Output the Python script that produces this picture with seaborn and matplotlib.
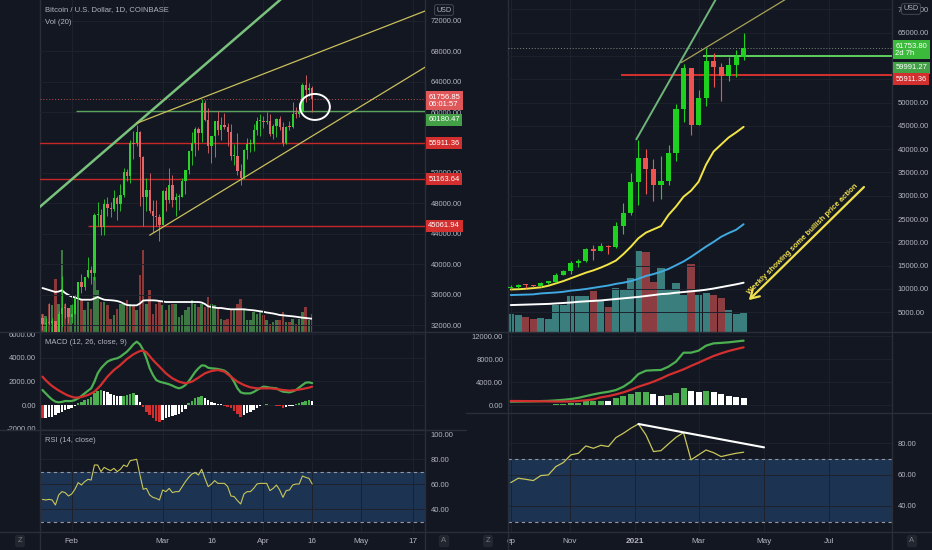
import numpy as np
import pandas as pd
import matplotlib
matplotlib.use("Agg")
import matplotlib.pyplot as plt
import matplotlib.dates as mdates
from matplotlib.patches import Ellipse
from matplotlib.lines import Line2D
import seaborn as sns

# ---------------- data: left chart, daily BTC/USD ----------------
day_dates = pd.date_range("2021-01-23", "2021-04-16", freq="D")

d_open = [32950, 32080, 32260, 32250, 32500, 30400, 33400, 34300, 34300,
          33100, 33500, 35500, 37650, 36950, 38300, 39250, 38850, 46450, 46500, 44850, 47950, 47400, 47200,
          48700, 47950, 49150, 52150, 51600, 55900, 55900, 57400, 54100, 48900, 49700, 47050, 46300, 46150,
          45200, 49600, 48400, 50400, 48400, 48800, 48900, 51000, 52400, 54900, 55900, 57800, 57300, 61200,
          59000, 55600, 56900, 58900, 57600, 58300, 58100, 57400, 54200, 54300, 52300, 51300, 55000, 55800,
          55800, 57600, 58800,
          58800, 58700, 58900, 57100, 58200, 59100, 58000, 56000, 58100, 58100, 59800, 59800, 60000, 63600,
          62900, 63200]
d_close = [32080, 32260, 32250, 32500, 30400, 33400, 34300, 34250, 33100,
           33500, 35500, 37650, 36950, 38300, 39250, 38850, 46450, 46500, 44850, 47950, 47400, 47200, 48700,
           47950, 49150, 52150, 51600, 55900, 55850, 57400, 54100, 48900, 49700, 47050, 46300, 46150, 45200,
           49600, 48400, 50400, 48400, 48800, 48900, 51000, 52400, 54900, 55900, 57800, 57300, 61200, 59000,
           55600, 56900, 58900, 57600, 58300, 58100, 57400, 54200, 54300, 52300, 51300, 55000, 55800, 55850,
           57600, 58800, 58800,
           58700, 58900, 57100, 58200, 59100, 58000, 56000, 58100, 58050, 59800, 59780, 60000, 63600, 62900,
           63200, 61750]
d_high = [33400, 32950, 34850, 32920, 32560, 33800, 38500, 34900, 34300,
          34700, 35900, 37700, 38700, 38300, 40900, 39700, 46800, 48200, 47300, 48600, 48900, 48200, 49700,
          49000, 50600, 52600, 52500, 56300, 57500, 58350, 57500, 54200, 51400, 52000, 48400, 48400, 46600,
          49800, 50200, 52600, 51800, 49400, 49200, 51400, 52400, 54900, 57400, 58100, 58000, 61800, 61600,
          60600, 56900, 58900, 60100, 59400, 59900, 58600, 58400, 55800, 57200, 53200, 55100, 56600, 56500,
          58400, 59400, 59800,
          59500, 60000, 59800, 58500, 59300, 59500, 58700, 58200, 58900, 61300, 60700, 61200, 63800, 64900,
          63800, 63500]
d_low = [31400, 30900, 31950, 30850, 29250, 29950, 31900, 32900, 32200,
         32300, 33400, 35400, 36200, 36600, 38200, 37400, 37900, 45000, 43800, 43900, 46300, 46200, 47000,
         45800, 47050, 48900, 50900, 50700, 53900, 55500, 47600, 45000, 47050, 46700, 44200, 45000, 43000,
         45100, 47000, 48100, 47500, 46300, 47100, 48900, 49300, 51900, 53100, 54300, 55000, 56100, 58900,
         54600, 53300, 54100, 57000, 56300, 57800, 55500, 53700, 53000, 51700, 50400, 51200, 53900, 54700,
         54900, 57000, 56900,
         57900, 58500, 56900, 56500, 56800, 57700, 55500, 55800, 57700, 57900, 59200, 59400, 60000, 61300,
         62100, 60000]
d_volume = [18, 16, 28, 27, 53, 28, 82, 28, 23,
            27, 28, 32, 32, 22, 30, 23, 55, 42, 30, 30, 27, 13, 17, 23, 28, 28, 32, 28, 27, 22, 57, 82, 28,
            42, 18, 28, 30,
            27, 22, 27, 28, 28, 15, 17, 22, 25, 32, 28, 25, 28, 25, 35, 28, 27, 23, 13, 12, 13, 22, 23, 28,
            33, 22, 12, 12, 20, 18, 20,
            17, 12, 8, 10, 12, 12, 20, 10, 10, 13, 8, 13, 20, 25, 12, 18]
d_vol_ma = [44, 43, 42, 41, 40, 40.5, 41.7, 39, 37,
            35.5, 34.5, 33.5, 32.3, 32.3, 32.3, 32.3, 33.5, 35, 33.5, 32.3, 32, 31.8, 31.5, 31, 30, 28.5, 27,
            26.7, 26.7, 26.7, 28.5, 31.5, 31.7, 31.7, 31.7, 31.5, 31,
            30.5, 30, 30, 30, 30, 30, 30, 30, 30, 30, 30, 30, 29.5, 28, 25.7, 25, 24.5, 24, 24, 23.5, 23,
            22.7, 22.7, 22.7, 22.7, 22.7, 22.3, 22, 21.7, 21.2, 20.7,
            20.2, 19.5, 19, 18.5, 17.8, 17, 16.7, 16.3, 16, 15.7, 15.3, 14.8, 14.3, 14, 13.6, 13.3]
d_macd = [1270, 980, 705, 450, 282, 225, 260, 338, 330,
          338, 420, 564, 760, 987, 1200, 1410, 1973, 2678, 3101, 3400, 3665, 3800, 3890, 3950, 4088, 4300,
          4511, 4800, 5131, 5357, 5131, 4652, 3947, 3101, 2537, 2114, 1973,
          1900, 1832, 1750, 1635, 1500, 1410, 1500, 1691, 2000, 2396, 2800, 3101, 3350, 3327, 3150, 3101,
          3080, 3045, 2980, 2903, 2700, 2396, 1950, 1410, 1071, 987, 980, 987, 1100, 1268, 1420,
          1550, 1520, 1466, 1440, 1410, 1250, 1128, 1100, 1071, 1150, 1268, 1480, 1691, 1889, 1917, 1850]
d_signal = [2396, 2100, 1832, 1600, 1410, 1230, 1071, 920, 789,
            700, 620, 640, 677, 760, 846, 980, 1128, 1400, 1691, 2050, 2396, 2680, 2960, 3170, 3383, 3640,
            3890, 4090, 4285, 4430, 4567, 4595, 4455, 4130, 3806, 3520, 3242,
            2960, 2678, 2460, 2255, 2110, 1973, 1900, 1832, 1900, 1973, 2140, 2311, 2500, 2678, 2780, 2875,
            2920, 2960, 2890, 2819, 2600, 2396, 2180, 1973, 1830, 1691, 1590, 1494, 1450, 1410, 1410,
            1410, 1410, 1410, 1380, 1353, 1310, 1268, 1240, 1212, 1240, 1268, 1310, 1353, 1410, 1466, 1550]
d_hist = [-1128, -1071, -987, -987, -846, -705, -564, -423, -338,
          -225, -56, 141, 282, 423, 507, 705, 987, 1184, 1268, 1184, 1071, 958, 846, 761, 733, 789, 846,
          930, 987, 846, 282, -141, -564, -846, -1128, -1353, -1466,
          -1268, -1128, -1015, -930, -846, -761, -560, -300, 141, 338, 564, 705, 789, 564, 395, 282, 197,
          113, 56, -56, -169, -282, -507, -789, -987, -846, -705, -564, -423, -225, -113,
          28, 56, 0, -28, -56, -113, -225, -169, -113, -56, 56, 169, 282, 366, 395, 310]
d_rsi = [47.9, 47.4, 47.9, 47.4, 43.4, 51.4, 54.1, 53.3, 50.6,
         52.2, 56.0, 61.3, 59.4, 62.1, 63.9, 63.4, 75.4, 75.4, 70.1, 73.5, 72.0, 70.9, 72.7, 70.1, 72.0,
         75.4, 74.1, 78.9, 79.4, 80.0, 67.4, 56.0, 56.7, 51.4, 49.5, 48.7, 47.4,
         55.4, 54.1, 56.7, 53.3, 54.1, 54.1, 58.1, 62.1, 65.5, 68.2, 69.3, 67.4, 72.0, 64.7, 58.1, 60.2,
         62.9, 60.7, 60.7, 60.7, 58.1, 50.6, 50.1, 46.9, 44.2, 52.2, 54.1, 54.1, 56.7, 60.2, 60.7,
         60.7, 60.7, 54.9, 56.7, 59.4, 55.4, 49.5, 54.9, 55.4, 59.4, 60.2, 60.2, 66.6, 65.5, 64.7, 60.2]

# drawings on the daily chart
d_levels_red = [55911.36, 51163.64]
d_level_red_short = 45061.94
d_level_green = 60180.47
d_last = 61756.85
d_green_trend = [("2021-01-22", 47470), ("2021-04-08", 75465)]
d_upper_trend = [("2021-02-21", 58540), ("2021-05-21", 73360)]
d_lower_trend = [("2021-02-25", 43820), ("2021-05-21", 65990)]

# ---------------- data: right chart, weekly ----------------
week_dates = pd.date_range("2020-09-07", periods=32, freq="7D")
w_open = [10280, 10330, 10940, 10770, 10670, 11370, 11500, 13030, 13780, 15480, 16060, 18500, 18180, 19280,
          18950, 23480, 26250, 32990, 38200, 35800, 32250, 33100, 39200, 48600, 57400, 45200, 51000, 59000,
          57600, 55800, 58000, 59800]
w_close = [10330, 10940, 10770, 10670, 11370, 11500, 13030, 13780, 15480, 16060, 18500, 18180, 19150, 18950,
           23480, 26250, 32990, 38200, 35800, 32250, 33100, 39200, 48600, 57400, 45200, 51000, 59000, 57600,
           55800, 58000, 59800, 61750]
w_high = [10800, 11100, 10990, 10950, 11450, 11730, 13350, 14100, 15960, 16480, 18800, 19480, 19900, 19420,
          24300, 28400, 34800, 42000, 40100, 37800, 38500, 40900, 49700, 58300, 57500, 52600, 61800, 60600,
          58400, 59800, 61300, 64900]
w_low = [9900, 10200, 10150, 10500, 10530, 11170, 11400, 12900, 13200, 14800, 15800, 16300, 18100, 17600,
         18900, 21900, 25900, 28000, 30400, 28800, 29300, 32300, 37400, 45800, 43000, 45100, 49300, 53300,
         50400, 54700, 55500, 59100]
w_volume = [110, 100, 90, 80, 84, 80, 160, 160, 216, 216, 216, 244, 184, 150, 264, 250, 324, 484, 480, 300,
            384, 256, 296, 220, 408, 220, 236, 220, 204, 130, 110, 120]
w_ma_yellow = [9900, 9950, 10050, 10200, 10350, 10700, 11200, 11700, 12300, 12900, 13500, 14000, 14600,
               15300, 16100, 17500, 19100, 20900, 22100, 22800, 23500, 25900, 27700, 29800, 31100, 33000,
               36700, 39500, 41000, 42500, 43600, 44800]
w_ma_blue = [8700, 8750, 8800, 8850, 9050, 9150, 9250, 9400, 9650, 9800, 10000, 10250, 10500, 10750, 11100,
             11350, 11700, 12200, 12800, 13200, 13700, 14300, 15100, 15900, 16900, 18000, 19100, 20100,
             21200, 22000, 22700, 23900]
w_ma_white = [6550, 6600, 6650, 6700, 6750, 6800, 6900, 7000, 7100, 7250, 7350, 7450, 7550, 7700, 7850,
              8000, 8150, 8300, 8500, 8700, 8900, 9000, 9200, 9350, 9500, 9650, 9850, 10100, 10400, 10700,
              11000, 11350]
w_macd = [580, 600, 620, 640, 680, 720, 800, 900, 1040, 1250, 1550, 1850, 2100, 2300, 2600, 3190, 4060,
          5390, 5970, 6050, 6090, 6670, 7540, 9100, 9100, 9450, 10320, 10720, 10800, 10900, 11050, 11190]
w_signal = [700, 690, 680, 660, 640, 620, 600, 600, 620, 700, 820, 980, 1330, 1550, 1850, 2200, 2650, 3190,
            3600, 4060, 4600, 5220, 5700, 6200, 6800, 7360, 7950, 8520, 8980, 9390, 9720, 10030]
w_hist = [-60, -40, -20, 10, 30, 60, 116, 174, 290, 406, 638, 700, 754, 720, 1160, 1623, 1913, 2261, 2300,
          1913, 1565, 1681, 2145, 2899, 2435, 2203, 2435, 2261, 1913, 1623, 1391, 1217]
w_rsi = [54.9, 57.7, 57.0, 56.2, 59.4, 59.8, 65.1, 67.7, 72.6, 73.6, 78.3, 76.8, 78.7, 77.9, 83.6, 86.4,
         89.6, 92.3, 85.3, 74.7, 75.3, 79.6, 83.8, 86.8, 69.4, 72.6, 75.7, 74.0, 71.5, 72.6, 73.6, 74.3]

w_level_green = 59991.27
w_level_red = 55911.36
w_last = 61753.80
w_green_trend = [("2021-01-02", 42110), ("2021-04-06", 80250)]
w_olive_trend = [("2021-02-13", 58600), ("2021-06-01", 73680)]
w_rsi_trend = [("2021-01-04", 92.3), ("2021-05-01", 77.4)]
note_text = "Weekly showing some bullish price action"

# ---------------- style ----------------
BG = "#131722"
FG = "#b2b5be"
GRID = "#1e222d"
SEP = "#2a2e39"
UP = "#2bd22b"
DOWN_L = "#e0666a"
DOWN_R = "#ef5350"
RED_LINE = "#c62828"
MACD_G = "#4caf50"
MACD_R = "#d32f2f"
BAND = "#1c3352"
RSI_C = "#c8c65a"
TS = 5.5   # axis / tag font size

sns.set_theme(style="dark", rc={"axes.facecolor": BG, "figure.facecolor": BG,
                                "text.color": FG, "xtick.color": FG, "ytick.color": FG})
plt.rcParams["font.family"] = ["Liberation Sans", "DejaVu Sans"]

W, H = 932, 550
fig = plt.figure(figsize=(W / 100, H / 100), dpi=100)
fig.patch.set_facecolor(BG)


def px_axes(x0, y0, x1, y1, **kw):
    return fig.add_axes([x0 / W, 1 - y1 / H, (x1 - x0) / W, (y1 - y0) / H], **kw)


def dn(s):
    return mdates.date2num(pd.Timestamp(s))


def style_ax(ax):
    ax.set_facecolor(BG)
    for s in ax.spines.values():
        s.set_visible(False)
    ax.grid(True, color=GRID, lw=0.7)
    ax.set_axisbelow(True)
    ax.tick_params(length=0, labelsize=TS, labelcolor=FG)


def candles(ax, x, o, h, l, c, width, up, down, wick_lw, min_body):
    o, h, l, c = map(np.asarray, (o, h, l, c))
    col = np.where(c >= o, up, down)
    ax.vlines(x, l, h, colors=col, lw=wick_lw, zorder=3)
    ax.bar(x, np.maximum(np.abs(c - o), min_body), bottom=np.minimum(o, c), width=width,
           color=col, lw=0, zorder=4)
    return col


def hist_colors(h):
    h = np.asarray(h, dtype=float)
    prev = np.r_[0.0, h[:-1]]
    return np.where(h >= 0, np.where(h >= prev, MACD_G, "white"),
                    np.where(h < prev, MACD_R, "white"))


def tag(ax, y, text, color, dy=0.0, va="center"):
    ax.annotate(text, xy=(1, y), xycoords=ax.get_yaxis_transform(), xytext=(2.4, dy),
                textcoords="offset points", ha="left", va=va, fontsize=TS, color="white",
                linespacing=1.05, bbox=dict(boxstyle="square,pad=0.33", fc=color, ec="none"),
                annotation_clip=False, zorder=10)


xd = mdates.date2num(day_dates)
xw = mdates.date2num(week_dates)

# ================= LEFT: daily =================
l_xlim = (dn("2021-01-22 06:00"), dn("2021-05-20 17:00"))
axL_vol = px_axes(40, 0, 425, 332)
axL = px_axes(40, 0, 425, 332, sharex=axL_vol)
axL_m = px_axes(40, 332, 425, 430, sharex=axL_vol)
axL_r = px_axes(40, 430, 425, 532, sharex=axL_vol)
for a in (axL, axL_m, axL_r):
    style_ax(a)
axL_vol.set_facecolor(BG)
axL_vol.axis("off")
axL.set_zorder(2)
axL.patch.set_visible(False)

up_col = np.asarray(d_close) >= np.asarray(d_open)
axL_vol.bar(xd, d_volume, width=0.8, color=np.where(up_col, "#3d7a43", "#8a3838"), lw=0)
sns.lineplot(x=xd, y=d_vol_ma, ax=axL_vol, color="white", linewidth=1.3, legend=False)
axL_vol.set_ylim(0, max(d_volume) * 4.05)

candles(axL, xd, d_open, d_high, d_low, d_close, 0.7, UP, DOWN_L, 0.6, 120)
for lv in d_levels_red:
    axL.axhline(lv, color=RED_LINE, lw=1.0, zorder=2)
axL.hlines(d_level_red_short, dn("2021-02-06"), l_xlim[1], color=RED_LINE, lw=1.0, zorder=2)
axL.hlines(d_level_green, dn("2021-02-02 08:00"), l_xlim[1], color="#5aa35a", lw=1.0, zorder=2)
axL.axhline(d_last, color="#c0504d", lw=0.7, ls=(0, (1, 2)), zorder=2)
for pts, col, lw in ((d_green_trend, "#79c27c", 1.8), (d_upper_trend, "#c9bf5c", 0.9),
                     (d_lower_trend, "#c9bf5c", 0.9)):
    axL.plot([dn(p[0]) for p in pts], [p[1] for p in pts], color=col, lw=lw, zorder=5)
axL.add_patch(Ellipse((dn("2021-04-16 20:00"), 60690), width=9.2, height=3420, fill=False,
                      ec="white", lw=1.4, zorder=6))
axL.set_ylim(31080, 74760)
axL.set_yticks(np.arange(32000, 72001, 4000))
axL.set_yticklabels([f"{v:.2f}" for v in np.arange(32000, 72001, 4000)])
axL.yaxis.tick_right()
axL.tick_params(axis="y", pad=4)
tag(axL, d_last, f"{d_last:.2f}\n06:01:57", "#e0575a", dy=3.8, va="top")
tag(axL, d_level_green, f"{d_level_green:.2f}", "#43a047", dy=-6.6)
tag(axL, 55911.36, "55911.36", "#d32f2f")
tag(axL, 51163.64, "51163.64", "#d32f2f")
tag(axL, d_level_red_short, f"{d_level_red_short:.2f}", "#d32f2f")

# MACD
axL_m.bar(xd, d_hist, width=0.75, color=hist_colors(d_hist), lw=0, zorder=2)
sns.lineplot(x=xd, y=d_macd, ax=axL_m, color=MACD_G, linewidth=1.6, legend=False, zorder=3)
sns.lineplot(x=xd, y=d_signal, ax=axL_m, color=MACD_R, linewidth=1.6, legend=False, zorder=3)
axL_m.set_ylim(-2114, 6173)
axL_m.set_yticks([-2000, 0, 2000, 4000, 6000])
axL_m.set_yticklabels(["-2000.00", "0.00", "2000.00", "4000.00", "6000.00"])
axL_m.tick_params(axis="y", pad=3)

# RSI
axL_r.axhspan(30, 70, color=BAND, lw=0, zorder=0)
for lv in (30, 70):
    axL_r.axhline(lv, color="#9598a1", lw=0.8, ls=(0, (3, 3)), zorder=1)
sns.lineplot(x=xd, y=d_rsi, ax=axL_r, color=RSI_C, linewidth=0.8, legend=False, zorder=3)
axL_r.set_ylim(21.8, 103.4)
axL_r.set_yticks([40, 60, 80, 100])
axL_r.set_yticklabels(["40.00", "60.00", "80.00", "100.00"])
axL_r.yaxis.tick_right()
axL_r.tick_params(axis="y", pad=4)

l_ticks = ["2021-02-01", "2021-03-01", "2021-03-16", "2021-04-01", "2021-04-16", "2021-05-01", "2021-05-17"]
l_labels = ["Feb", "Mar", "16", "Apr", "16", "May", "17"]
axL_vol.set_xlim(*l_xlim)
for a in (axL, axL_m, axL_r):
    a.set_xticks([dn(t) for t in l_ticks])
    a.tick_params(axis="x", labelbottom=False)
    a.set_xlabel("")
    a.set_ylabel("")
axL_r.tick_params(axis="x", labelbottom=True, pad=4, labelsize=5.9)
axL_r.set_xticklabels(l_labels)

# ================= RIGHT: weekly =================
r_xlim = (dn("2020-09-04 10:00"), dn("2021-08-28 07:00"))
axR_vol = px_axes(508, 0, 892, 332)
axR = px_axes(508, 0, 892, 332, sharex=axR_vol)
axR_m = px_axes(508, 332, 892, 413, sharex=axR_vol)
axR_r = px_axes(508, 413, 892, 532, sharex=axR_vol)
for a in (axR, axR_m, axR_r):
    style_ax(a)
axR_vol.set_facecolor(BG)
axR_vol.axis("off")
axR.set_zorder(2)
axR.patch.set_visible(False)

w_up = np.asarray(w_close) >= np.asarray(w_open)
axR_vol.bar(xw, w_volume, width=6.6, color=np.where(w_up, "#3a7e7d", "#8b3d42"), lw=0)
axR_vol.set_ylim(0, max(w_volume) * 4.11)

axR.hlines(w_level_red, dn("2020-12-19"), r_xlim[1], color="#d32f2f", lw=1.4, zorder=2)
axR.hlines(w_level_green, dn("2021-03-05"), r_xlim[1], color="#5fcf5f", lw=1.4, zorder=2)
axR.axhline(w_last, color="#7d8a7d", lw=0.7, ls=(0, (1, 2)), zorder=2)
for pts, col, lw in ((w_green_trend, "#6fb57a", 1.4), (w_olive_trend, "#a9a255", 0.9)):
    axR.plot([dn(p[0]) for p in pts], [p[1] for p in pts], color=col, lw=lw, zorder=5)
sns.lineplot(x=xw, y=w_ma_white, ax=axR, color="white", linewidth=1.4, legend=False, zorder=3)
sns.lineplot(x=xw, y=w_ma_blue, ax=axR, color="#3fa9e0", linewidth=1.4, legend=False, zorder=3)
sns.lineplot(x=xw, y=w_ma_yellow, ax=axR, color="#f2e545", linewidth=1.4, legend=False, zorder=3)
candles(axR, xw, w_open, w_high, w_low, w_close, 4.7, "#1fd11f", DOWN_R, 0.8, 250)
axR.set_ylim(772, 72017)
axR.set_yticks(np.arange(5000, 70001, 5000))
axR.set_yticklabels([f"{v:.2f}" for v in np.arange(5000, 70001, 5000)])
axR.yaxis.tick_right()
axR.tick_params(axis="y", pad=4)
tag(axR, w_last, f"{w_last:.2f}\n2d 7h", "#3cba3c", dy=3.8, va="top")
tag(axR, w_level_green, f"{w_level_green:.2f}", "#43a047", dy=-8.6)
tag(axR, w_level_red, f"{w_level_red:.2f}", "#d32f2f", dy=-3.0)

axR.annotate("", xy=(dn("2021-04-15"), 7200), xytext=(dn("2021-08-04"), 32300),
             arrowprops=dict(arrowstyle="->,head_length=0.5,head_width=0.3", color="#f0e050", lw=1.6),
             zorder=6)
axR.text(dn("2021-06-06"), 20730, note_text, rotation=45, rotation_mode="anchor", ha="center",
         va="center", color="#f0e050", fontsize=5.5, fontweight="bold", zorder=6)

# MACD
axR_m.bar(xw, w_hist, width=5.6, color=hist_colors(w_hist), lw=0, zorder=2)
sns.lineplot(x=xw, y=w_macd, ax=axR_m, color=MACD_G, linewidth=1.6, legend=False, zorder=3)
sns.lineplot(x=xw, y=w_signal, ax=axR_m, color=MACD_R, linewidth=1.6, legend=False, zorder=3)
axR_m.set_ylim(-1391, 12696)
axR_m.set_yticks([0, 4000, 8000, 12000])
axR_m.set_yticklabels(["0.00", "4000.00", "8000.00", "12000.00"])
axR_m.tick_params(axis="y", pad=3.5)

# RSI
axR_r.axhspan(30, 70, color=BAND, lw=0, zorder=0)
for lv in (30, 70):
    axR_r.axhline(lv, color="#9598a1", lw=0.8, ls=(0, (3, 3)), zorder=1)
sns.lineplot(x=xw, y=w_rsi, ax=axR_r, color=RSI_C, linewidth=0.9, legend=False, zorder=3)
axR_r.plot([dn(p[0]) for p in w_rsi_trend], [p[1] for p in w_rsi_trend], color="white", lw=1.5, zorder=4)
axR_r.set_ylim(23.4, 99.3)
axR_r.set_yticks([40, 60, 80])
axR_r.set_yticklabels(["40.00", "60.00", "80.00"])
axR_r.yaxis.tick_right()
axR_r.tick_params(axis="y", pad=4)

r_ticks = ["2020-09-07", "2020-11-01", "2021-01-01", "2021-03-01", "2021-05-01", "2021-07-01"]
r_labels = ["ep", "Nov", "2021", "Mar", "May", "Jul"]
axR_vol.set_xlim(*r_xlim)
for a in (axR, axR_m, axR_r):
    a.set_xticks([dn(t) for t in r_ticks])
    a.tick_params(axis="x", labelbottom=False)
    a.set_xlabel("")
    a.set_ylabel("")
axR_r.tick_params(axis="x", labelbottom=True, pad=4, labelsize=5.9)
axR_r.set_xticklabels(r_labels)
axR_r.get_xticklabels()[2].set_fontweight("bold")

# ================= frame, headers, buttons =================
def fline(x0, y0, x1, y1):
    fig.add_artist(Line2D([x0 / W, x1 / W], [1 - y0 / H, 1 - y1 / H], transform=fig.transFigure,
                          color=SEP, lw=1.0))


fline(0, 332, 932, 332)
fline(0, 430, 466, 430)
fline(466, 413, 932, 413)
fline(0, 532, 932, 532)
for xv in (40, 425, 508, 892):
    fline(xv, 0, xv, 550)

for yh, s in ((10, "Bitcoin / U.S. Dollar, 1D, COINBASE"), (22, "Vol (20)"),
              (343, "MACD (12, 26, close, 9)"), (441, "RSI (14, close)")):
    fig.text(45 / W, 1 - yh / H, s, fontsize=5.5, color=FG, va="center")
for xu, yu in ((444, 10), (911, 9)):
    fig.text(xu / W, 1 - yu / H, "USD", fontsize=5.2, color=FG, ha="center", va="center",
             bbox=dict(boxstyle="round,pad=0.25", fc=BG, ec="#4a4e59", lw=0.6), zorder=20)
for xb, s in ((20, "Z"), (444, "A"), (488, "Z"), (912, "A")):
    fig.text(xb / W, 1 - 541 / H, s, fontsize=5.5, color="#787b86", ha="center", va="center",
             bbox=dict(boxstyle="round,pad=0.35", fc="#22262f", ec="none"))

fig.savefig("out.png", dpi=100, facecolor=BG)
